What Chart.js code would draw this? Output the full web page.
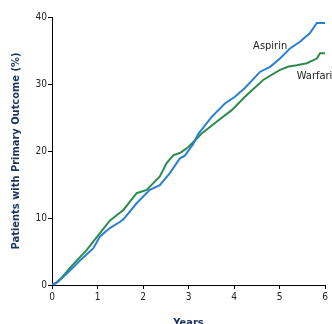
<!DOCTYPE html>
<html>
<head>
<meta charset="utf-8">
<script src="https://cdn.jsdelivr.net/npm/chart.js@4.4.1/dist/chart.umd.min.js"></script>
<style>
  html, body { margin: 0; padding: 0; background: #fff; }
  #wrap { width: 332px; height: 324px; position: relative; }
</style>
</head>
<body>
<div id="wrap"><canvas id="km"></canvas></div>
<script>
const xTicks = [0, 1, 2, 3, 4, 5, 6];
const yTicks = [0, 10, 20, 30, 40];

const aspirinYears = [0, 0.1, 0.18, 0.4, 0.62, 0.8, 0.91, 1.05, 1.27, 1.49, 1.57, 1.86, 2.15, 2.37, 2.59, 2.81, 2.92, 3.1, 3.22, 3.51, 3.8, 4.02, 4.24, 4.57, 4.8, 5.01, 5.23, 5.45, 5.67, 5.82, 6.0];
const aspirinPct   = [0, 0.3, 0.8, 2.2, 3.7, 4.8, 5.5, 7.2, 8.5, 9.4, 9.8, 12.2, 14.2, 14.9, 16.7, 18.9, 19.3, 21.0, 22.6, 25.1, 27.1, 28.1, 29.4, 31.8, 32.6, 33.8, 35.3, 36.3, 37.6, 39.1, 39.1];

const warfarinYears = [0, 0.1, 0.2, 0.4, 0.62, 0.76, 1.05, 1.27, 1.42, 1.57, 1.86, 2.08, 2.37, 2.52, 2.67, 2.81, 3.0, 3.29, 3.66, 3.95, 4.24, 4.64, 5.01, 5.2, 5.38, 5.6, 5.82, 5.89, 6.0];
const warfarinPct   = [0, 0.4, 1.0, 2.6, 4.2, 5.2, 7.7, 9.6, 10.4, 11.2, 13.7, 14.2, 16.2, 18.2, 19.4, 19.7, 20.6, 22.6, 24.6, 26.1, 28.1, 30.6, 32.1, 32.6, 32.8, 33.1, 33.8, 34.6, 34.6];

// series labels placed in data coordinates
const seriesLabels = [
  { text: 'Aspirin', x: 4.42, y: 35.7 },
  { text: 'Warfarin', x: 5.38, y: 31.2 }
];

const pts = (xs, ys) => xs.map((x, i) => ({ x, y: ys[i] }));
const tickFont = { family: "'Liberation Sans Narrow', 'DejaVu Sans Condensed', sans-serif", size: 10 };
const titleFont = { family: "'Liberation Sans Narrow', 'DejaVu Sans Condensed', sans-serif", size: 11, weight: 'bold' };

const labelPlugin = {
  id: 'seriesLabels',
  afterDatasetsDraw(chart) {
    const { ctx, scales: { x, y } } = chart;
    ctx.save();
    ctx.font = "11px 'Liberation Sans Narrow', 'DejaVu Sans Condensed', sans-serif";
    ctx.fillStyle = '#222';
    ctx.textBaseline = 'middle';
    for (const l of seriesLabels) ctx.fillText(l.text, x.getPixelForValue(l.x), y.getPixelForValue(l.y));
    ctx.restore();
  }
};

new Chart(document.getElementById('km'), {
  type: 'line',
  data: {
    datasets: [
      {
        label: 'Aspirin',
        data: pts(aspirinYears, aspirinPct),
        borderColor: '#2b7fd0',
        borderWidth: 2,
        pointRadius: 0,
        tension: 0,
        fill: false
      },
      {
        label: 'Warfarin',
        data: pts(warfarinYears, warfarinPct),
        borderColor: '#2e8b4e',
        borderWidth: 2,
        pointRadius: 0,
        tension: 0,
        fill: false
      }
    ]
  },
  options: {
    responsive: true,
    maintainAspectRatio: false,
    animation: false,
    layout: { padding: { left: 0, right: 7, top: 17, bottom: 0 } },
    scales: {
      x: {
        type: 'linear',
        min: 0,
        max: 6,
        afterBuildTicks: s => { s.ticks = xTicks.map(v => ({ value: v })); },
        afterFit: s => { s.height = 39; },
        ticks: { color: '#222', font: tickFont, padding: 2, maxRotation: 0 },
        grid: { drawOnChartArea: false, drawTicks: true, tickLength: 4, color: '#000' },
        border: { display: true, color: '#000', width: 1 },
        title: { display: true, text: 'Years', color: '#1c355e', font: titleFont, padding: { top: 0, bottom: -6 } }
      },
      y: {
        min: 0,
        max: 40,
        afterBuildTicks: s => { s.ticks = yTicks.map(v => ({ value: v })); },
        afterFit: s => { s.width = 52; },
        ticks: { color: '#222', font: tickFont, padding: 1 },
        grid: { drawOnChartArea: false, drawTicks: true, tickLength: 4, color: '#000' },
        border: { display: true, color: '#000', width: 1 },
        title: { display: true, text: 'Patients with Primary Outcome (%)', color: '#1c355e', font: titleFont, padding: { top: 10, bottom: 0 } }
      }
    },
    plugins: {
      legend: { display: false },
      tooltip: { enabled: false }
    }
  },
  plugins: [labelPlugin]
});
</script>
</body>
</html>
